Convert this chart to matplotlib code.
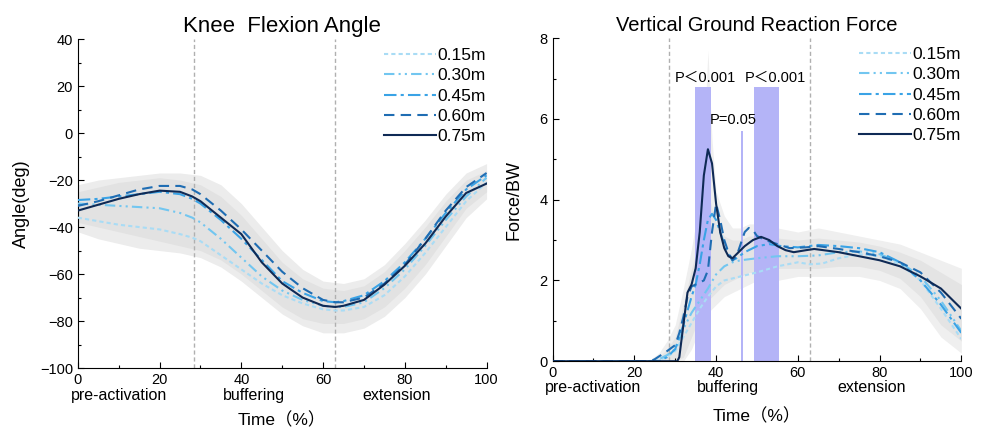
import matplotlib.pyplot as plt
import numpy as np
from matplotlib.ticker import MultipleLocator

plt.rcParams['font.family'] = ['Liberation Sans', 'Noto Sans CJK SC', 'DejaVu Sans']

labels = ['0.15m', '0.30m', '0.45m', '0.60m', '0.75m']
colors = ['#a9dcf5', '#72c6f0', '#3aa3e6', '#1f6db3', '#0f2a55']
styles = [(0, (2, 1.5)), (0, (5, 2, 1, 2, 1, 2)), (0, (6, 2, 1.5, 2)), (0, (5, 3)), '-']

# knee flexion angle (deg)
kx = [0, 5, 10, 15, 20, 25, 28, 30, 35, 40, 45, 50, 55, 60, 63, 65, 70, 75, 80, 85, 90, 95, 100]
knee = {
    '0.15m': [-36, -37.5, -39, -40, -41, -43, -44.5, -46, -52, -58, -64, -69, -72.5, -75, -75.5, -75.5, -74, -69, -61, -51, -40, -29, -21],
    '0.30m': [-30, -30.5, -31, -31.5, -32, -34, -36, -38, -45, -53, -61, -67, -71, -73.5, -74, -74, -72, -66, -58, -48, -37, -27, -19],
    '0.45m': [-28.5, -28, -27, -26, -25, -26, -28, -30, -37, -45, -54, -63, -68, -71.5, -72, -71.5, -69, -63, -55, -45, -34, -24, -18],
    '0.60m': [-31, -29, -26.5, -24, -22.5, -22.5, -24, -26, -33, -41, -50, -59, -66, -71, -72, -72, -70, -64, -56, -45, -33, -23, -17],
    '0.75m': [-33, -30.5, -28, -26, -24.5, -25, -27, -29, -36, -43, -55, -64, -70, -73.5, -74, -73.5, -71, -64.5, -56.5, -47, -35.5, -25.5, -21.5],
}
kbx = [0, 5, 10, 15, 20, 25, 30, 35, 40, 45, 50, 55, 60, 65, 70, 75, 80, 85, 90, 95, 100]
k_out_hi = [-22, -20, -19, -18, -17, -17, -18, -22, -30, -40, -50, -58, -63, -64, -62, -56, -47, -37, -26, -17, -13]
k_out_lo = [-42, -45, -47, -49, -50, -51, -53, -57, -63, -70, -77, -82, -85, -85, -83, -78, -70, -60, -48, -36, -28]
k_in_hi = [-25, -23, -21, -20, -19, -20, -22, -27, -35, -45, -55, -62, -66, -67, -65, -59, -50, -40, -29, -20, -16]
k_in_lo = [-38, -40, -42, -44, -46, -48, -50, -54, -60, -67, -74, -79, -81, -81, -79, -74, -66, -56, -44, -32, -25]

# vertical ground reaction force (BW)
force_x = {
    '0.15m': [0, 25, 28, 30, 32, 34, 36, 38, 40, 42, 44, 46, 50, 55, 60, 63, 66, 70, 75, 80, 85, 90, 95, 100],
    '0.30m': [0, 25, 28, 30, 32, 34, 36, 38, 40, 42, 44, 46, 50, 55, 60, 65, 70, 75, 80, 85, 90, 95, 100],
    '0.45m': [0, 26, 28, 30, 32, 34, 35, 36, 37, 38, 39, 40, 41, 42, 43, 44, 45, 47, 50, 53, 56, 60, 65, 70, 75, 80, 85, 90, 95, 100],
    '0.60m': [0, 24, 25, 28, 30, 31, 32, 33, 34, 35, 37, 38, 39, 40, 41, 42, 43, 44, 45, 46, 47, 48, 49, 50, 52, 55, 58, 62, 65, 70, 75, 80, 85, 90, 95, 100],
    '0.75m': [0, 30.5, 31, 32, 33, 34, 35, 36, 37, 38, 39, 40, 41, 42, 43, 44, 45, 47, 49, 51, 53, 55, 57, 59, 62, 64, 70, 75, 80, 85, 90, 95, 100],
}
force = {
    '0.15m': [0, 0, 0.1, 0.25, 0.6, 0.95, 1.3, 1.6, 1.85, 2.0, 2.05, 2.1, 2.2, 2.35, 2.45, 2.4, 2.42, 2.55, 2.65, 2.6, 2.4, 2.0, 1.3, 0.55],
    '0.30m': [0, 0, 0.15, 0.3, 0.8, 1.2, 1.5, 1.8, 2.15, 2.35, 2.45, 2.5, 2.55, 2.6, 2.6, 2.62, 2.7, 2.72, 2.65, 2.45, 2.1, 1.5, 0.75],
    '0.45m': [0, 0, 0.1, 0.3, 0.9, 1.6, 1.9, 2.4, 3.0, 3.5, 3.65, 3.5, 3.2, 2.9, 2.65, 2.5, 2.55, 2.7, 2.85, 2.9, 2.85, 2.82, 2.88, 2.85, 2.8, 2.7, 2.45, 2.0, 1.4, 0.7],
    '0.60m': [0, 0, 0.05, 0.25, 0.4, 0.7, 1.1, 1.6, 1.85, 1.9, 2.0, 2.25, 3.2, 3.9, 3.5, 3.0, 2.7, 2.5, 2.6, 2.9, 3.2, 3.3, 3.25, 3.1, 3.0, 2.9, 2.8, 2.82, 2.85, 2.78, 2.7, 2.6, 2.45, 2.2, 1.7, 1.05],
    '0.75m': [0, 0, 0.1, 0.9, 1.7, 1.9, 2.3, 3.2, 4.6, 5.25, 4.9, 3.9, 3.2, 2.8, 2.6, 2.55, 2.65, 2.85, 3.0, 3.08, 3.0, 2.85, 2.75, 2.7, 2.75, 2.78, 2.7, 2.6, 2.5, 2.35, 2.1, 1.8, 1.3],
}
fbx = [0, 20, 24, 26, 28, 30, 32, 34, 36, 37, 38, 39, 40, 42, 44, 46, 48, 50, 55, 60, 65, 70, 75, 80, 85, 90, 95, 100]
f_hi = [0, 0, 0.05, 0.2, 0.5, 0.9, 1.8, 2.8, 4.0, 5.5, 7.7, 5.5, 4.2, 3.6, 3.3, 3.3, 3.4, 3.4, 3.3, 3.2, 3.3, 3.2, 3.1, 3.0, 2.9, 2.7, 2.5, 2.3]
f_lo = [0, 0, 0, 0, 0, 0, 0, 0.3, 0.8, 1.0, 1.2, 1.3, 1.4, 1.6, 1.7, 1.8, 1.9, 2.0, 2.0, 2.1, 2.1, 2.1, 2.1, 2.0, 1.8, 1.3, 0.6, 0.2]
f_in_hi = [0, 0, 0.02, 0.1, 0.3, 0.6, 1.4, 2.3, 3.0, 3.6, 4.2, 3.8, 3.4, 3.1, 3.0, 3.0, 3.1, 3.1, 3.05, 3.0, 3.05, 3.0, 2.95, 2.85, 2.7, 2.5, 2.2, 1.9]
f_in_lo = [0, 0, 0, 0, 0, 0, 0.1, 0.6, 1.1, 1.3, 1.5, 1.6, 1.7, 1.9, 2.0, 2.1, 2.2, 2.2, 2.3, 2.3, 2.3, 2.35, 2.35, 2.25, 2.05, 1.6, 0.9, 0.5]

# significance bars: start, end, height, label, label x, label y
sig_spans = [(34.8, 38.7, 6.8, 'P＜0.001', 37.3, 6.85),
             (49.3, 55.4, 6.8, 'P＜0.001', 54.4, 6.85),
             (46.1, 46.6, 5.7, 'P=0.05', 44.1, 5.8)]
phase_lines = [28.5, 63]
phases = [(10, 'pre-activation'), (43, 'buffering'), (78, 'extension')]

fig = plt.figure(figsize=(9.85, 4.29), dpi=100)
ax1 = fig.add_axes([0.079, 0.142, 0.415, 0.767])
ax2 = fig.add_axes([0.561, 0.158, 0.415, 0.753])


def style_axes(ax, pad):
    for s in ['top', 'right']:
        ax.spines[s].set_visible(False)
    ax.tick_params(direction='in', labelsize=10.5, length=4, width=0.8)
    ax.tick_params(which='minor', direction='in', length=2.5, width=0.8)
    ax.set_xlim(0, 100)
    ax.xaxis.set_major_locator(MultipleLocator(20))
    ax.xaxis.set_minor_locator(MultipleLocator(10))
    for v in phase_lines:
        ax.axvline(v, color='#b0b0b0', ls=(0, (3, 2)), lw=1, zorder=1)
    for xp, t in phases:
        ax.text(xp, -0.082, t, transform=ax.get_xaxis_transform(), ha='center', va='center', fontsize=11.5)
    ax.set_xlabel('Time（%）', fontsize=12.5, labelpad=pad)
    ax.legend(frameon=False, loc='upper right', fontsize=12.5, handlelength=3.0,
              handletextpad=0.1, labelspacing=0.3, borderaxespad=0.1,
              bbox_to_anchor=(1.02, 1.0))


ax1.fill_between(kbx, k_out_lo, k_out_hi, color='#ececec', lw=0, zorder=0)
ax1.fill_between(kbx, k_in_lo, k_in_hi, color='#e2e2e2', lw=0, zorder=0)
for lab, c, ls in zip(labels, colors, styles):
    ax1.plot(kx, knee[lab], color=c, ls=ls, lw=1.5, label=lab, zorder=3)
ax1.set_ylim(-100, 40)
ax1.yaxis.set_major_locator(MultipleLocator(20))
ax1.yaxis.set_minor_locator(MultipleLocator(10))
ax1.set_ylabel('Angle(deg)', fontsize=13, labelpad=7)
ax1.set_title('Knee  Flexion Angle', fontsize=16, pad=5)
style_axes(ax1, 18)

ax2.fill_between(fbx, f_lo, f_hi, color='#efefef', lw=0, zorder=0)
ax2.fill_between(fbx, f_in_lo, f_in_hi, color='#e4e4e4', lw=0, zorder=0)
for x0, x1, h, t, tx, ty in sig_spans:
    ax2.bar((x0 + x1) / 2, h, width=x1 - x0, color='#b4b4f7', zorder=2)
    ax2.text(tx, ty, t, ha='center', va='bottom', fontsize=10.5)
for lab, c, ls in zip(labels, colors, styles):
    ax2.plot(force_x[lab], force[lab], color=c, ls=ls, lw=1.5, label=lab, zorder=3)
ax2.set_ylim(0, 8)
ax2.yaxis.set_major_locator(MultipleLocator(2))
ax2.yaxis.set_minor_locator(MultipleLocator(1))
ax2.set_ylabel('Force/BW', fontsize=13, labelpad=12)
ax2.set_title('Vertical Ground Reaction Force', fontsize=14.5, pad=5)
style_axes(ax2, 20)

fig.savefig('out.png', dpi=100)
